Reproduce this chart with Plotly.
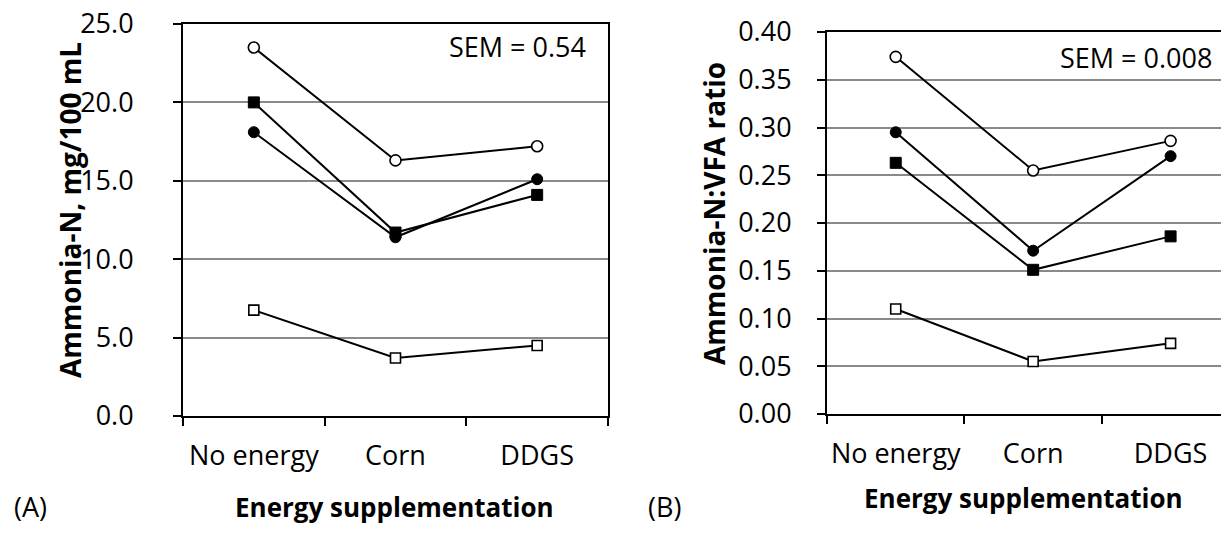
import plotly.graph_objects as go

categories = ["No energy", "Corn", "DDGS"]

# Panel A: Ammonia-N, mg/100 mL
a_open_circle = [23.5, 16.3, 17.2]
a_filled_square = [20.0, 11.7, 14.1]
a_filled_circle = [18.1, 11.4, 15.1]
a_open_square = [6.75, 3.7, 4.5]

# Panel B: Ammonia-N:VFA ratio
b_open_circle = [0.374, 0.255, 0.286]
b_filled_circle = [0.295, 0.171, 0.270]
b_filled_square = [0.263, 0.151, 0.186]
b_open_square = [0.110, 0.055, 0.074]

a_ticks = [0, 5, 10, 15, 20, 25]
a_ticktext = ["0.0", "5.0", "10.0", "15.0", "20.0", "25.0"]
b_ticks = [0, 0.05, 0.10, 0.15, 0.20, 0.25, 0.30, 0.35, 0.40]
b_ticktext = ["0.00", "0.05", "0.10", "0.15", "0.20", "0.25", "0.30", "0.35", "0.40"]

FONT = "Open Sans"
# page body has an 8px default margin; figure sized to fill the rest of the window
OX, OY = 8, 8
W, H = 1229 - OX, 535 - OY


def px(x):
    return (x - OX) / W


def py(y):
    return 1 - (y - OY) / H


styles = {
    "open_circle": dict(symbol="circle", color="white", line=dict(color="black", width=1.6), size=11),
    "filled_circle": dict(symbol="circle", color="black", line=dict(color="black", width=1), size=11),
    "filled_square": dict(symbol="square", color="black", line=dict(color="black", width=1), size=11),
    "open_square": dict(symbol="square", color="white", line=dict(color="black", width=1.6), size=10),
}

fig = go.Figure()


def add(vals, key, xa, ya):
    fig.add_trace(go.Scatter(
        x=categories, y=vals, mode="lines+markers",
        line=dict(color="black", width=2),
        marker=styles[key], xaxis=xa, yaxis=ya, showlegend=False,
        name=key,
    ))


add(a_open_circle, "open_circle", "x", "y")
add(a_filled_square, "filled_square", "x", "y")
add(a_filled_circle, "filled_circle", "x", "y")
add(a_open_square, "open_square", "x", "y")

add(b_open_circle, "open_circle", "x2", "y2")
add(b_filled_circle, "filled_circle", "x2", "y2")
add(b_filled_square, "filled_square", "x2", "y2")
add(b_open_square, "open_square", "x2", "y2")

tickfont = dict(family=FONT, size=27, color="black")

xcommon = dict(type="category", categoryorder="array", categoryarray=categories,
               tickson="boundaries", ticks="outside", ticklen=8, tickwidth=1.5,
               tickcolor="black", showline=True, linecolor="black", linewidth=2,
               showgrid=False, zeroline=False, tickfont=tickfont, tickangle=0,
               automargin=False, ticklabelstandoff=15, ticklabeloverflow="allow")

ycommon = dict(ticks="outside", ticklen=8, tickwidth=1.5, tickcolor="black",
               showline=True, linecolor="black", linewidth=2,
               showgrid=True, gridcolor="#8a8a8a", gridwidth=1.5,
               zeroline=False, tickfont=tickfont, automargin=False,
               ticklabeloverflow="allow")

fig.update_layout(
    width=W, height=H,
    margin=dict(l=0, r=0, t=0, b=0),
    paper_bgcolor="white", plot_bgcolor="white",
    font=dict(family=FONT, color="black"),
    xaxis=dict(domain=[px(183), px(608)], range=[-0.5, 2.5], anchor="y",
               mirror=True, **xcommon),
    yaxis=dict(domain=[py(416), py(24)], range=[0, 25], anchor="x",
               tickvals=a_ticks, ticktext=a_ticktext, mirror=True,
               ticklabelstandoff=34, **ycommon),
    xaxis2=dict(domain=[px(827), 1.0], range=[-0.5, 2.425], anchor="y2",
                mirror=True, **xcommon),
    yaxis2=dict(domain=[py(414), py(32)], range=[0, 0.40], anchor="x2",
                tickvals=b_ticks, ticktext=b_ticktext, mirror=False,
                ticklabelstandoff=20, **ycommon),
)


def ann(text, x, y, size=27, bold=False, angle=0):
    t = f"<b>{text}</b>" if bold else text
    fig.add_annotation(text=t, x=px(x), y=py(y), xref="paper", yref="paper",
                       xanchor="center", yanchor="middle", showarrow=False,
                       textangle=angle, font=dict(family=FONT, size=size, color="black"))


ann("SEM = 0.54", 517, 47)
ann("SEM = 0.008", 1136, 57)
ann("Energy supplementation", 394, 507, size=26, bold=True)
ann("Energy supplementation", 1023, 498, size=26, bold=True)
ann("Ammonia-N, mg/100 mL", 70, 210, size=28, bold=True, angle=-90)
ann("Ammonia-N:VFA ratio", 714, 214, size=28, bold=True, angle=-90)
ann("(A)", 30, 506)
ann("(B)", 664, 506)

fig.write_html("out.html")
